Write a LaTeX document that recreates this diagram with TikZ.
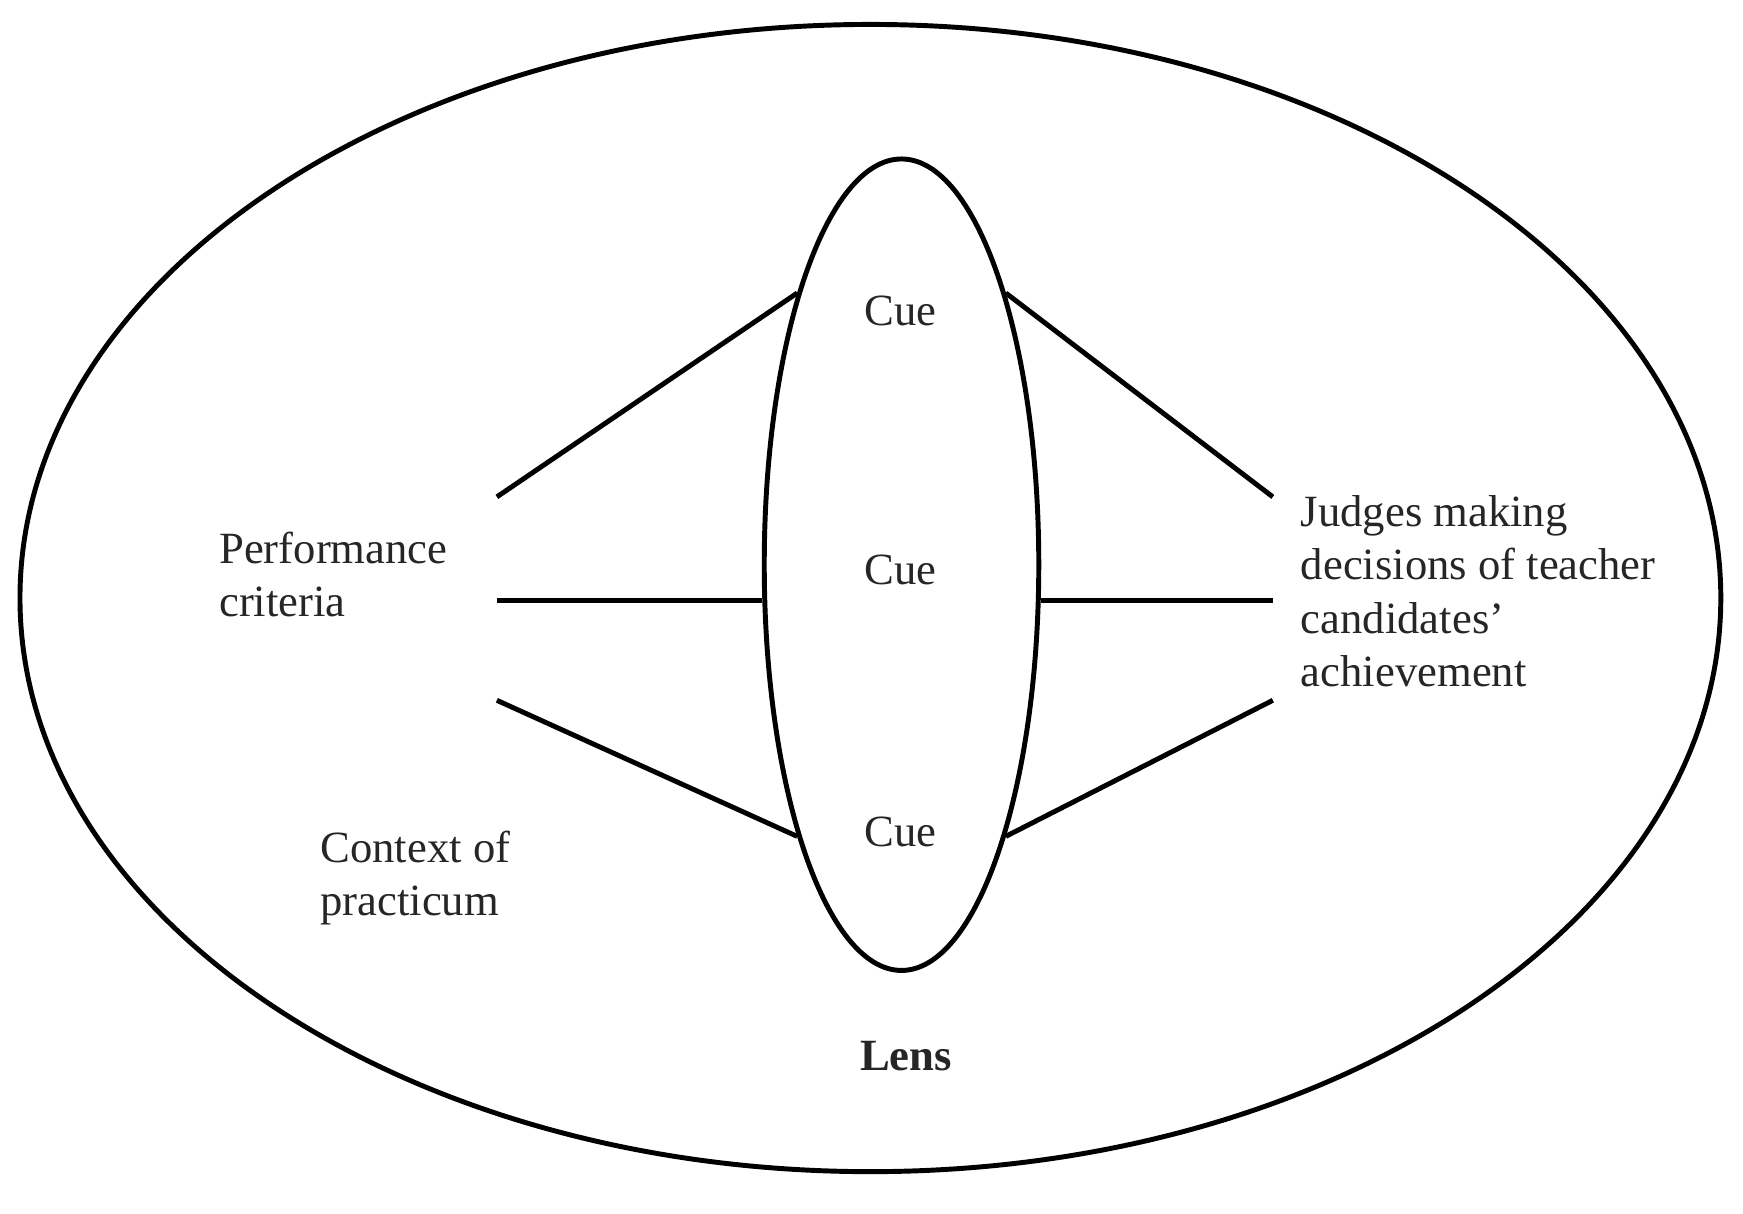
\documentclass[tikz,border=0pt]{standalone}
\usepackage{fontspec}
\setmainfont{Liberation Serif}
\usetikzlibrary{shapes.geometric}
\begin{document}
\begin{tikzpicture}[x=0.8337pt,y=-0.8337pt,
  line/.style={line width=3.7pt,line cap=butt},
  oval/.style={ellipse,draw,line width=3.7pt,inner sep=0pt},
  lbl/.style={inner sep=0pt,font=\fontsize{33.5}{40}\selectfont,align=left,text=black!85},
  cue/.style={inner sep=0pt,font=\fontsize{33.5}{40}\selectfont,text=black!85}]
\useasboundingbox (0,0) rectangle (1568,1092);
\node[oval,minimum width=1275.6pt,minimum height=860.4pt] (outer) at (783,538) {};
\node[oval,minimum width=205.9pt,minimum height=608.6pt] (lens) at (811,508) {};
\coordinate (lt) at (447,447);
\coordinate (lm) at (447,540);
\coordinate (lb) at (447,630);
\coordinate (rt) at (1145,447);
\coordinate (rm) at (1145,540);
\coordinate (rb) at (1145,630);
\draw[line] (lt) -- (lens.111);
\draw[line] (lm) -- (lens.west |- lm);
\draw[line] (lb) -- (lens.249);
\draw[line] (rt) -- (lens.69);
\draw[line] (rm) -- (lens.east |- rm);
\draw[line] (rb) -- (lens.291);
\node[cue] (c1) at (810,280) {Cue};
\node[cue] (c2) at (810,513) {Cue};
\node[cue] (c3) at (810,748) {Cue};
\node[lbl,anchor=west] (perf) at (197,517) {Performance\\criteria};
\node[lbl,anchor=west] (judg) at (1170,532) {Judges making\\decisions of teacher\\candidates’\\achievement};
\node[lbl,anchor=west] (ctx) at (288,790) {Context of\\practicum};
\node[cue,font=\fontsize{33.5}{40}\selectfont\bfseries] (lenslbl) at (815,950) {Lens};
\end{tikzpicture}
\end{document}
